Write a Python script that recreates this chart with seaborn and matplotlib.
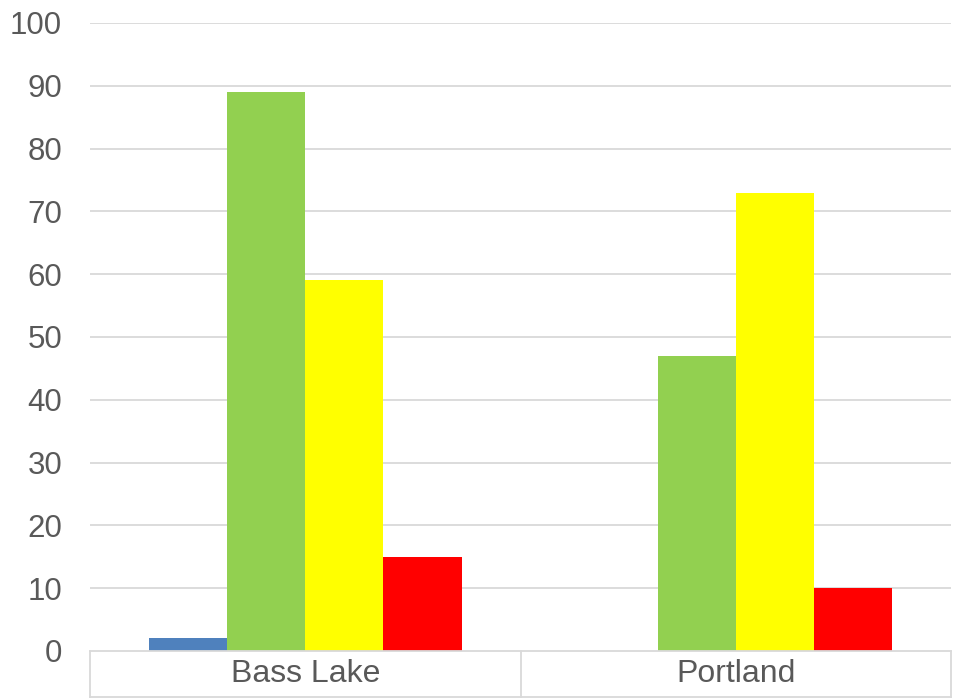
import matplotlib
matplotlib.use("Agg")
import matplotlib.pyplot as plt
import matplotlib.transforms as mtransforms
import seaborn as sns
import pandas as pd

# Survey counts per site, four rating classes
sites = ["Bass Lake", "Portland"]
classes = ["Excellent", "Good", "Fair", "Poor"]
bass_lake = [2, 89, 59, 15]
portland = [0, 47, 73, 10]
class_colors = ["#4F81BD", "#92D050", "#FFFF00", "#FF0000"]
y_ticks = [0, 10, 20, 30, 40, 50, 60, 70, 80, 90, 100]

rows = []
for site, vals in zip(sites, [bass_lake, portland]):
    for cls, v in zip(classes, vals):
        rows.append({"site": site, "class": cls, "count": v})
df = pd.DataFrame(rows)

sns.set_theme(style="white")
plt.rcParams["font.family"] = ["Liberation Sans", "DejaVu Sans"]

fig = plt.figure(figsize=(9.54, 6.98), dpi=100)
W, H = 954, 698
ax = fig.add_axes([90 / W, (H - 651) / H, (951 - 90) / W, (651 - 23) / H])

grid_c = "#D9D9D9"
text_c = "#595959"

for t in y_ticks[1:]:
    ax.axhline(t, color=grid_c, lw=1.3, zorder=0)

sns.barplot(data=df, x="site", y="count", hue="class", hue_order=classes,
            palette=class_colors, saturation=1, width=0.727, linewidth=0,
            edgecolor="none", legend=False, ax=ax, zorder=2)

ax.set_ylim(0, 100)
ax.set_xlim(-0.5, 1.5)
ax.set_yticks(y_ticks)
ax.set_xlabel("")
ax.set_ylabel("")
ax.tick_params(axis="y", length=0, labelsize=22.5, labelcolor=text_c, pad=20)
ax.tick_params(axis="x", length=0, labelsize=23, labelcolor=text_c, pad=6)

for s in ["top", "right", "left"]:
    ax.spines[s].set_visible(False)
ax.spines["bottom"].set_color(grid_c)
ax.spines["bottom"].set_linewidth(1.3)

# Category separators and bottom rule of the label band
band = (698 - 651) / (651 - 23)
trans = mtransforms.blended_transform_factory(ax.transData, ax.transAxes)
for xb in [-0.5, 0.5, 1.5]:
    ax.plot([xb, xb], [0, -band], color=grid_c, lw=1.3, transform=trans,
            clip_on=False, zorder=3)
ax.plot([-0.5, 1.5], [-band + 0.002, -band + 0.002], color=grid_c, lw=1.3,
        transform=trans, clip_on=False, zorder=3)

fig.savefig("out.png", dpi=100)
